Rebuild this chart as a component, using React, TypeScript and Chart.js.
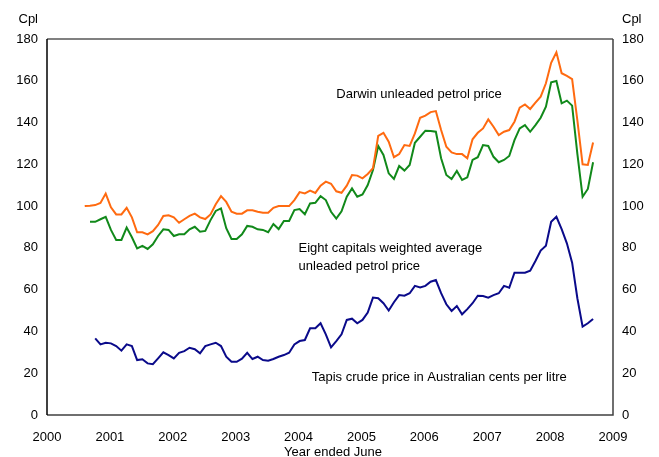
import React, { useEffect, useRef } from "react";
import { Chart, registerables } from "chart.js";

Chart.register(...registerables);

// Monthly series, cents per litre. Darwin series starts at START_YEAR;
// the eight-capitals series starts one month later, Tapis two months later.
const START_YEAR = 2000.6;

const DARWIN = [
  100, 100.2, 100.5, 101.5, 106, 99.4, 96, 96, 99.2, 94.6,
  87.5, 87.5, 86.5, 88, 91, 95.3, 95.6, 94.6, 92, 93.7,
  95.3, 96.4, 94.6, 93.8, 96, 100.9, 104.8, 102, 97.3, 96.4,
  96.4, 98, 98, 97.3, 96.8, 96.8, 99.2, 100, 100, 100,
  102.9, 106.7, 106.1, 107.4, 106.3, 109.8, 111.7, 110.7, 107.1, 106.4,
  109.8, 114.9, 114.6, 113.3, 115.4, 118.1, 133.6, 135.1, 130.8, 123.4,
  124.9, 129.2, 128.8, 134.8, 142.3, 143.3, 145, 145.5, 136.4, 128.4,
  125.7, 124.9, 124.9, 122.9, 132, 135.1, 137.2, 141.5, 138, 134,
  135.6, 136.4, 140.4, 147.1, 148.7, 146.5, 149.5, 152.4, 158.8, 168.6,
  173.6, 163.6, 162.3, 160.8, 141, 120, 119.7, 130.5,
];

const EIGHT_CAPITALS = [
  92.5, 92.5, 93.7, 94.9, 88.6, 83.8, 83.8, 89.7, 85.1, 79.8,
  81, 79.5, 81.7, 85.7, 88.9, 88.6, 85.7, 86.5, 86.5, 88.9,
  90.1, 87.7, 88.1, 93.3, 97.7, 98.9, 89.4, 84.3, 84.3, 86.5,
  90.5, 90.1, 88.9, 88.6, 87.5, 91.4, 89, 92.9, 92.9, 98.1,
  98.6, 96.1, 101.3, 101.6, 104.8, 102.9, 97.3, 94, 97.5,
  104.5, 108.5, 104.5, 105.6, 110.1, 117.3, 128.8, 124.5, 115.7, 113,
  119.2, 117, 119.7, 130.3, 133.2, 136.1, 135.9, 135.6, 122.9, 114.9,
  113, 116.8, 112.5, 113.8, 122.1, 123.4, 129.2, 128.8, 123.6, 121,
  122.1, 124, 131.6, 137.2, 138.8, 135.6, 138.8, 142.3, 147.6, 159.3,
  159.9, 149.2, 150.5, 148.1, 125, 104.5, 108.2, 121,
];

const TAPIS = [
  36.7, 33.8, 34.6, 34.3, 33, 30.8, 33.8, 33, 26.3, 26.7,
  24.7, 24.3, 27.1, 30, 28.7, 27.1, 29.8, 30.6, 32.2, 31.5,
  29.5, 33, 33.8, 34.6, 33, 27.9, 25.5, 25.5,
  27, 29.8, 26.8, 27.9, 26.3, 26, 26.8, 27.9, 28.7, 29.8,
  33.8, 35.4, 35.9, 41.5, 41.5, 43.9, 38.6, 32.4, 35.4, 38.6,
  45.5, 46.1, 43.9, 45.5, 49, 56.2, 55.9, 53.5, 50, 54,
  57.4, 57.1, 58.3, 61.8, 61.1, 61.8, 63.8, 64.6, 58.3, 53,
  49.8, 52.2, 48.2, 50.7, 53.5, 57.1, 57, 56.2, 57.4, 58.3,
  61.8, 60.9, 68.1, 68.1, 68.1, 69.1, 73.7, 78.7, 81, 92.5,
  94.9, 89, 82.2, 72.9, 55.9, 42.3, 43.9, 46,
];

const YEAR_TICKS = [2000, 2001, 2002, 2003, 2004, 2005, 2006, 2007, 2008, 2009];
const CPL_TICKS = [0, 20, 40, 60, 80, 100, 120, 140, 160, 180];

const UNIT_LABEL = "Cpl";
const X_TITLE = "Year ended June";
const DARWIN_LABEL = ["Darwin unleaded petrol price"];
const EIGHT_LABEL = ["Eight capitals weighted average", "unleaded petrol price"];
const TAPIS_LABEL = ["Tapis crude price in Australian cents per litre"];

const FONT_FAMILY = '"Liberation Sans", Arial, Helvetica, sans-serif';
const FONT = `13px ${FONT_FAMILY}`;

function toPoints(values: number[], monthOffset: number) {
  return values.map((v, i) => ({ x: START_YEAR + (monthOffset + i) / 12, y: v }));
}

const annotationPlugin = {
  id: "annotations",
  afterDraw(chart: any) {
    const { ctx, chartArea, scales } = chart;
    const { left, right, top, bottom } = chartArea;
    const xs = scales.x;
    const ys = scales.y;
    ctx.save();
    // frame
    ctx.lineWidth = 2;
    ctx.strokeStyle = "#808080";
    ctx.beginPath();
    ctx.moveTo(left, top);
    ctx.lineTo(right, top);
    ctx.stroke();
    ctx.strokeStyle = "#404040";
    ctx.lineWidth = 1.5;
    ctx.beginPath();
    ctx.moveTo(right, top);
    ctx.lineTo(right, bottom);
    ctx.lineTo(left, bottom);
    ctx.stroke();
    ctx.strokeStyle = "#000000";
    ctx.lineWidth = 1.5;
    ctx.beginPath();
    ctx.moveTo(left, top);
    ctx.lineTo(left, bottom);
    ctx.stroke();

    ctx.font = FONT;
    ctx.fillStyle = "#000000";
    ctx.textBaseline = "middle";

    const drawLines = (lines: string[], xv: number, yv: number, lineH: number) => {
      const px = xs.getPixelForValue(xv);
      const py = ys.getPixelForValue(yv);
      ctx.textAlign = "left";
      lines.forEach((t, i) => ctx.fillText(t, px, py + i * lineH));
    };
    drawLines(DARWIN_LABEL, 2004.6, 153.5, 17);
    drawLines(EIGHT_LABEL, 2004.0, 79.6, 17.5);
    drawLines(TAPIS_LABEL, 2004.21, 18, 17);

    // unit labels
    ctx.textAlign = "right";
    ctx.fillText(UNIT_LABEL, left - 9, 19);
    ctx.textAlign = "left";
    ctx.fillText(UNIT_LABEL, right + 9, 19);

    // x title
    ctx.textAlign = "center";
    ctx.fillText(X_TITLE, (left + right) / 2 + 3, 452);
    ctx.restore();
  },
};

export default function App() {
  const ref = useRef<HTMLCanvasElement | null>(null);

  useEffect(() => {
    if (!ref.current) return;
    const tickFont = { family: FONT_FAMILY, size: 13 };
    const chart = new Chart(ref.current, {
      type: "line",
      data: {
        datasets: [
          {
            label: "Darwin unleaded petrol price",
            data: toPoints(DARWIN, 0),
            borderColor: "#FF6A10",
            borderWidth: 2,
            pointRadius: 0,
            tension: 0,
            yAxisID: "y",
          },
          {
            label: "Eight capitals weighted average unleaded petrol price",
            data: toPoints(EIGHT_CAPITALS, 1),
            borderColor: "#11891A",
            borderWidth: 2,
            pointRadius: 0,
            tension: 0,
            yAxisID: "y",
          },
          {
            label: "Tapis crude price in Australian cents per litre",
            data: toPoints(TAPIS, 2),
            borderColor: "#0A0A8A",
            borderWidth: 2,
            pointRadius: 0,
            tension: 0,
            yAxisID: "y",
          },
        ],
      },
      options: {
        responsive: false,
        animation: false,
        devicePixelRatio: 1,
        layout: { padding: { left: 0, right: 0, top: 39, bottom: 0 } },
        plugins: { legend: { display: false }, tooltip: { enabled: false } },
        scales: {
          x: {
            type: "linear",
            min: 2000,
            max: 2009,
            grid: { display: false, drawTicks: false },
            border: { display: false },
            afterBuildTicks: (s: any) => {
              s.ticks = YEAR_TICKS.map((v) => ({ value: v }));
            },
            afterFit: (s: any) => {
              s.height = 42;
            },
            ticks: {
              font: tickFont,
              color: "#000",
              padding: 15,
              maxRotation: 0,
              autoSkip: false,
              callback: (v: any) => String(v),
            },
          },
          y: {
            position: "left",
            min: 0,
            max: 180,
            grid: { display: false, drawTicks: false },
            border: { display: false },
            afterBuildTicks: (s: any) => {
              s.ticks = CPL_TICKS.map((v) => ({ value: v }));
            },
            afterFit: (s: any) => {
              s.width = 47;
            },
            ticks: { font: tickFont, color: "#000", padding: 9, callback: (v: any) => String(v) },
          },
          y2: {
            position: "right",
            display: true,
            min: 0,
            max: 180,
            grid: { display: false, drawTicks: false },
            border: { display: false },
            afterBuildTicks: (s: any) => {
              s.ticks = CPL_TICKS.map((v) => ({ value: v }));
            },
            afterFit: (s: any) => {
              s.width = 46;
            },
            ticks: { font: tickFont, color: "#000", padding: 9, callback: (v: any) => String(v) },
          },
        },
      },
      plugins: [annotationPlugin],
    } as any);
    return () => chart.destroy();
  }, []);

  return (
    <div style={{ position: "absolute", left: 0, top: 0, width: 659, height: 457, background: "#fff" }}>
      <canvas ref={ref} width={659} height={457} style={{ display: "block" }} />
    </div>
  );
}
